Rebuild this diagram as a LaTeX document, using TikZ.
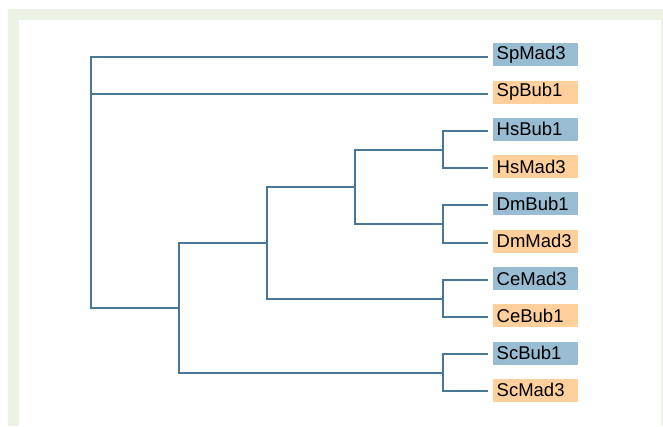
\documentclass[tikz,border=0pt]{standalone}
\usepackage{fontspec}
\setmainfont{Liberation Sans}
\definecolor{edgec}{RGB}{72,120,150}
\definecolor{boxblue}{RGB}{152,188,210}
\definecolor{boxorange}{RGB}{255,208,156}
\definecolor{framegreen}{RGB}{234,243,230}
\begin{document}
\begin{tikzpicture}[x=1pt,y=-1pt,
  edge/.style={draw=edgec,line width=2pt,line join=miter,line cap=rect},
  leafbox/.style={anchor=west,minimum width=85pt,minimum height=23pt,inner xsep=3.5pt,inner ysep=0pt,text=black,font=\fontsize{18.5}{20}\selectfont,align=left,text width=78pt},
  blue/.style={leafbox,fill=boxblue},
  orange/.style={leafbox,fill=boxorange}]
\useasboundingbox (0,0) rectangle (663,426);
\fill[white] (0,0) rectangle (663,426);
\fill[framegreen] (8,9) rectangle (663,426);
\fill[white] (19,20) rectangle (661,426);
% leaf tips
\coordinate (t1) at (487,57);
\coordinate (t2) at (487,94);
\coordinate (t3) at (487,131);
\coordinate (t4) at (487,168);
\coordinate (t5) at (487,205);
\coordinate (t6) at (487,243);
\coordinate (t7) at (487,280);
\coordinate (t8) at (487,317);
\coordinate (t9) at (487,354);
\coordinate (t10) at (487,391);
% labels
\node[blue]   (l1)  at (493,54.5)  {SpMad3};
\node[orange] (l2)  at (493,92)    {SpBub1};
\node[blue]   (l3)  at (493,129.2) {HsBub1};
\node[orange] (l4)  at (493,166.4) {HsMad3};
\node[blue]   (l5)  at (493,203.5) {DmBub1};
\node[orange] (l6)  at (493,241)   {DmMad3};
\node[blue]   (l7)  at (493,278.5) {CeMad3};
\node[orange] (l8)  at (493,315.5) {CeBub1};
\node[blue]   (l9)  at (493,353)   {ScBub1};
\node[orange] (l10) at (493,390)   {ScMad3};
% internal nodes
\coordinate (root) at (91,57);
\coordinate (a) at (179,308);
\coordinate (b) at (267,243);
\coordinate (c) at (355,187);
\coordinate (hs) at (443,150);
\coordinate (dm) at (443,224);
\coordinate (ce) at (443,299);
\coordinate (sc) at (443,373);
% edges
\draw[edge] (root) |- (t1);
\draw[edge] (root) |- (t2);
\draw[edge] (root) |- (a);
\draw[edge] (a) |- (b);
\draw[edge] (a) |- (sc);
\draw[edge] (b) |- (c);
\draw[edge] (b) |- (ce);
\draw[edge] (c) |- (hs);
\draw[edge] (c) |- (dm);
\draw[edge] (hs) |- (t3);
\draw[edge] (hs) |- (t4);
\draw[edge] (dm) |- (t5);
\draw[edge] (dm) |- (t6);
\draw[edge] (ce) |- (t7);
\draw[edge] (ce) |- (t8);
\draw[edge] (sc) |- (t9);
\draw[edge] (sc) |- (t10);
\end{tikzpicture}
\end{document}
